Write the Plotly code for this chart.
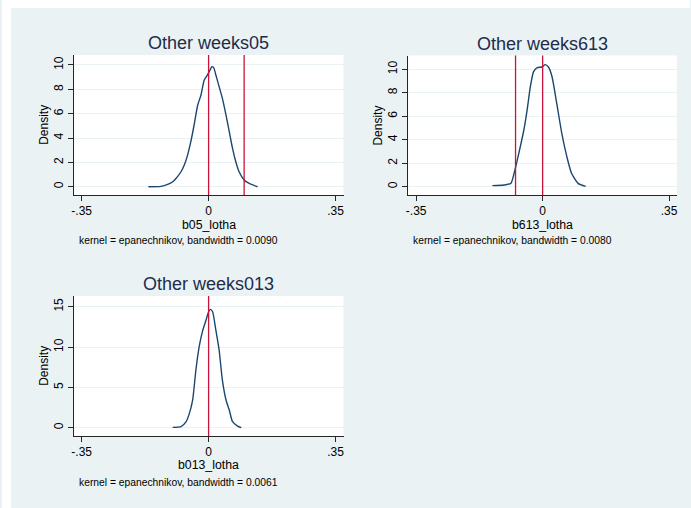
import plotly.graph_objects as go

W, H = 691, 508

# ---------------- data ----------------
titles = ["Other weeks05", "Other weeks613", "Other weeks013"]
xtitles = ["b05_lotha", "b613_lotha", "b013_lotha"]
notes = ["kernel = epanechnikov, bandwidth = 0.0090",
         "kernel = epanechnikov, bandwidth = 0.0080",
         "kernel = epanechnikov, bandwidth = 0.0061"]

x_ticks = [-0.35, 0, 0.35]
x_ticktext = ["-.35", "0", ".35"]
y_ticks_1 = [0, 2, 4, 6, 8, 10]
y_ticks_2 = [0, 2, 4, 6, 8, 10]
y_ticks_3 = [0, 5, 10, 15]

b05_x = [-0.166, -0.131, -0.113, -0.099, -0.090, -0.076, -0.067, -0.058, -0.049,
         -0.040, -0.030, -0.021, -0.012, -0.003, 0.004, 0.009, 0.014, 0.020,
         0.029, 0.038, 0.048, 0.057, 0.066, 0.075, 0.084, 0.098, 0.112, 0.135]
b05_y = [0.00, 0.03, 0.19, 0.41, 0.68, 1.23, 1.78, 2.60, 3.70,
         5.07, 6.71, 7.53, 8.77, 9.18, 9.59, 9.86, 9.78, 9.18,
         8.22, 7.26, 5.89, 4.52, 3.15, 2.05, 1.23, 0.55, 0.27, 0.00]

b613_x = [-0.139, -0.107, -0.088, -0.079, -0.066, -0.052, -0.043, -0.034, -0.025,
          -0.015, -0.002, 0.007, 0.016, 0.026, 0.039, 0.053, 0.067, 0.080,
          0.098, 0.119]
b613_y = [0.09, 0.14, 0.28, 1.14, 2.84, 4.83, 6.53, 8.52, 9.80,
          10.14, 10.20, 10.40, 10.20, 9.37, 7.10, 4.55, 2.56, 1.14,
          0.28, 0.03]

b013_x = [-0.099, -0.076, -0.062, -0.053, -0.044, -0.035, -0.026, -0.016, -0.007,
          0.000, 0.005, 0.011, 0.020, 0.029, 0.038, 0.048, 0.057, 0.066,
          0.080, 0.090]
b013_y = [0.04, 0.12, 0.74, 1.78, 3.43, 7.15, 10.04, 12.10, 13.35,
          14.38, 14.67, 14.38, 12.10, 9.63, 5.90, 3.43, 2.19, 0.74,
          0.20, 0.00]

vlines_1 = [0, 0.098]
vlines_2 = [-0.075, 0]
vlines_3 = [0]

# ---------------- layout helpers ----------------
def fx(px):
    return px / W

def fy(py):
    return 1 - py / H

FONT = "Liberation Sans, Arial, Helvetica, sans-serif"
NAVY = "#1A476F"
RED = "#C8143A"
BG = "#EAF2F3"
AX = "#262626"
TITLE_C = "#1E2C4E"

# plot regions in pixels: left, right, top, bottom
boxes = [(72, 343, 55, 195), (408, 678, 55.5, 195), (72, 343, 296, 436)]
yranges = [[-0.68, 10.82], [-0.71, 11.18], [-1.03, 16.33]]
yticks = [y_ticks_1, y_ticks_2, y_ticks_3]
series = [(b05_x, b05_y), (b613_x, b613_y), (b013_x, b013_y)]
vlines = [vlines_1, vlines_2, vlines_3]
title_y = [43, 44, 284]
xtitle_y = [224.5, 224.5, 465]
note_y = [240.5, 240.5, 482]

fig = go.Figure()
shapes = [
    dict(type="rect", xref="paper", yref="paper", x0=0, x1=fx(9), y0=0, y1=1,
         fillcolor="white", line=dict(width=0), layer="below"),
    dict(type="rect", xref="paper", yref="paper", x0=0, x1=1, y0=fy(8), y1=1,
         fillcolor="white", line=dict(width=0), layer="below"),
]
annotations = []
layout_axes = {}

for i in range(3):
    n = "" if i == 0 else str(i + 1)
    L, R, T, B = boxes[i]
    xs, ys = series[i]
    fig.add_trace(go.Scatter(x=xs, y=ys, mode="lines", xaxis="x" + n, yaxis="y" + n,
                             line=dict(color=NAVY, width=1.4, shape="spline", smoothing=0.6),
                             hoverinfo="skip", showlegend=False))
    layout_axes["xaxis" + n] = dict(
        domain=[fx(L), fx(R)], anchor="y" + n, range=[-0.372, 0.372],
        tickvals=x_ticks, ticktext=x_ticktext, ticks="outside", ticklen=5,
        tickcolor=AX, tickwidth=1, showline=True, linecolor=AX, linewidth=1,
        showgrid=False, zeroline=False, tickfont=dict(family=FONT, size=12, color="black"),
        ticklabelstandoff=0, fixedrange=True)
    layout_axes["yaxis" + n] = dict(
        domain=[fy(B), fy(T)], anchor="x" + n, range=yranges[i],
        tickvals=yticks[i], ticks="outside", ticklen=5, tickcolor=AX, tickwidth=1,
        showline=True, linecolor=AX, linewidth=1, showgrid=True, gridcolor=BG,
        gridwidth=1, zeroline=False, tickangle=-90,
        tickfont=dict(family=FONT, size=12, color="black"), fixedrange=True)
    for v in vlines[i]:
        shapes.append(dict(type="line", xref="x" + n, yref="y" + n + " domain",
                           x0=v, x1=v, y0=0, y1=1, line=dict(color=RED, width=1.3)))
    cx = (L + R) / 2
    annotations.append(dict(text=titles[i], xref="paper", yref="paper", x=fx(cx),
                            y=fy(title_y[i]), xanchor="center", yanchor="middle",
                            showarrow=False, font=dict(family=FONT, size=18, color=TITLE_C)))
    annotations.append(dict(text="Density", xref="paper", yref="paper", x=fx(L - 30),
                            y=fy((T + B) / 2), xanchor="center", yanchor="middle",
                            textangle=-90, showarrow=False,
                            font=dict(family=FONT, size=12, color="black")))
    annotations.append(dict(text=xtitles[i], xref="paper", yref="paper", x=fx(cx),
                            y=fy(xtitle_y[i]), xanchor="center", yanchor="middle",
                            showarrow=False, font=dict(family=FONT, size=12.3, color="black")))
    annotations.append(dict(text=notes[i], xref="paper", yref="paper", x=fx(L + 3),
                            y=fy(note_y[i]), xanchor="left", yanchor="middle",
                            showarrow=False, font=dict(family=FONT, size=10.3, color="black")))

fig.update_layout(
    width=W, height=H, margin=dict(l=0, r=0, t=0, b=0),
    paper_bgcolor=BG, plot_bgcolor="white", showlegend=False,
    shapes=shapes, annotations=annotations, **layout_axes)

fig.write_html("out.html")
